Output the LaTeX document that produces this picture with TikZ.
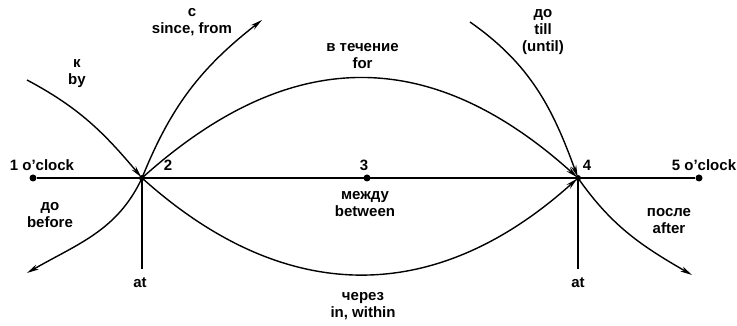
\documentclass[tikz,border=0pt]{standalone}
\usepackage{fontspec}
\setmainfont{Liberation Sans}
\usetikzlibrary{arrows.meta}

\begin{document}
\begin{tikzpicture}[
  x=1pt, y=1pt,
  >={Stealth[length=12pt,width=5.5pt]},
  dot/.style={circle, fill, inner sep=0pt, minimum size=7pt},
  lbl/.style={font=\bfseries\fontsize{15}{17}\selectfont, align=center, inner sep=0pt},
  line/.style={line width=1.4pt},
  arrow/.style={->, line width=1.4pt}
]
\useasboundingbox (0,0) rectangle (737,326);
% points on the time axis
\node[dot] (p1) at (33,148) {};
\node[dot, minimum size=6pt] (p2) at (142,148) {};
\node[dot] (p3) at (367,148) {};
\node[dot, minimum size=6pt] (p4) at (578,148) {};
\node[dot] (p5) at (699,148) {};
\node[lbl] (t1) at (42,161) {1 o'clock};
\node[lbl] (t2) at (168,161) {2};
\node[lbl] (t3) at (364,161) {3};
\node[lbl] (t4) at (587,161) {4};
\node[lbl] (t5) at (704,161) {5 o'clock};
% free ends
\coordinate (byend) at (27,246);
\coordinate (sinceend) at (262,306);
\coordinate (tillend) at (470,304);
\coordinate (afterend) at (692,51);
\coordinate (beforeend) at (27,53);
\coordinate (atleft) at (142,57);
\coordinate (atright) at (578,57);
% labels
\node[lbl] (by) at (77,252.5) {к\\by};
\node[lbl] (since) at (192,303.5) {с\\since, from};
\node[lbl] (for) at (362.5,269.5) {в течение\\for};
\node[lbl] (till) at (543,293.5) {до\\till\\(until)};
\node[lbl] (before) at (50,111) {до\\before};
\node[lbl] (between) at (365,121.5) {между\\between};
\node[lbl] (after) at (669,104.5) {после\\after};
\node[lbl] (within) at (363,19.5) {через\\in, within};
\node[lbl] (atl) at (140,43) {at};
\node[lbl] (atr) at (578,43) {at};
% axis
\draw[line] (p1) -- (p2.center);
\draw[line width=2.2pt] (p2.center) -- (p4.center);
\draw[line] (p4.center) -- (p5);
\draw[line] (p2.center) -- (atleft);
\draw[line] (p4.center) -- (atright);
% curves
\draw[arrow, shorten >=1pt] (byend) to[out=-28, in=130] (p2.center);
\draw[arrow] (p2.center) to[out=68, in=-142] (sinceend);
\draw[arrow, shorten >=1pt] (p2.center) to[out=42, in=138, looseness=1.17] (p4.center);
\draw[arrow, shorten >=1pt] (p2.center) to[out=-42, in=-138, looseness=1.13] (p4.center);
\draw[arrow, shorten >=1pt] (tillend) to[out=-35, in=110] (p4.center);
\draw[arrow] (p4.center) to[out=-55, in=150] (afterend);
\draw[arrow] (p2.center) to[out=-115, in=30] (beforeend);
\end{tikzpicture}
\end{document}
